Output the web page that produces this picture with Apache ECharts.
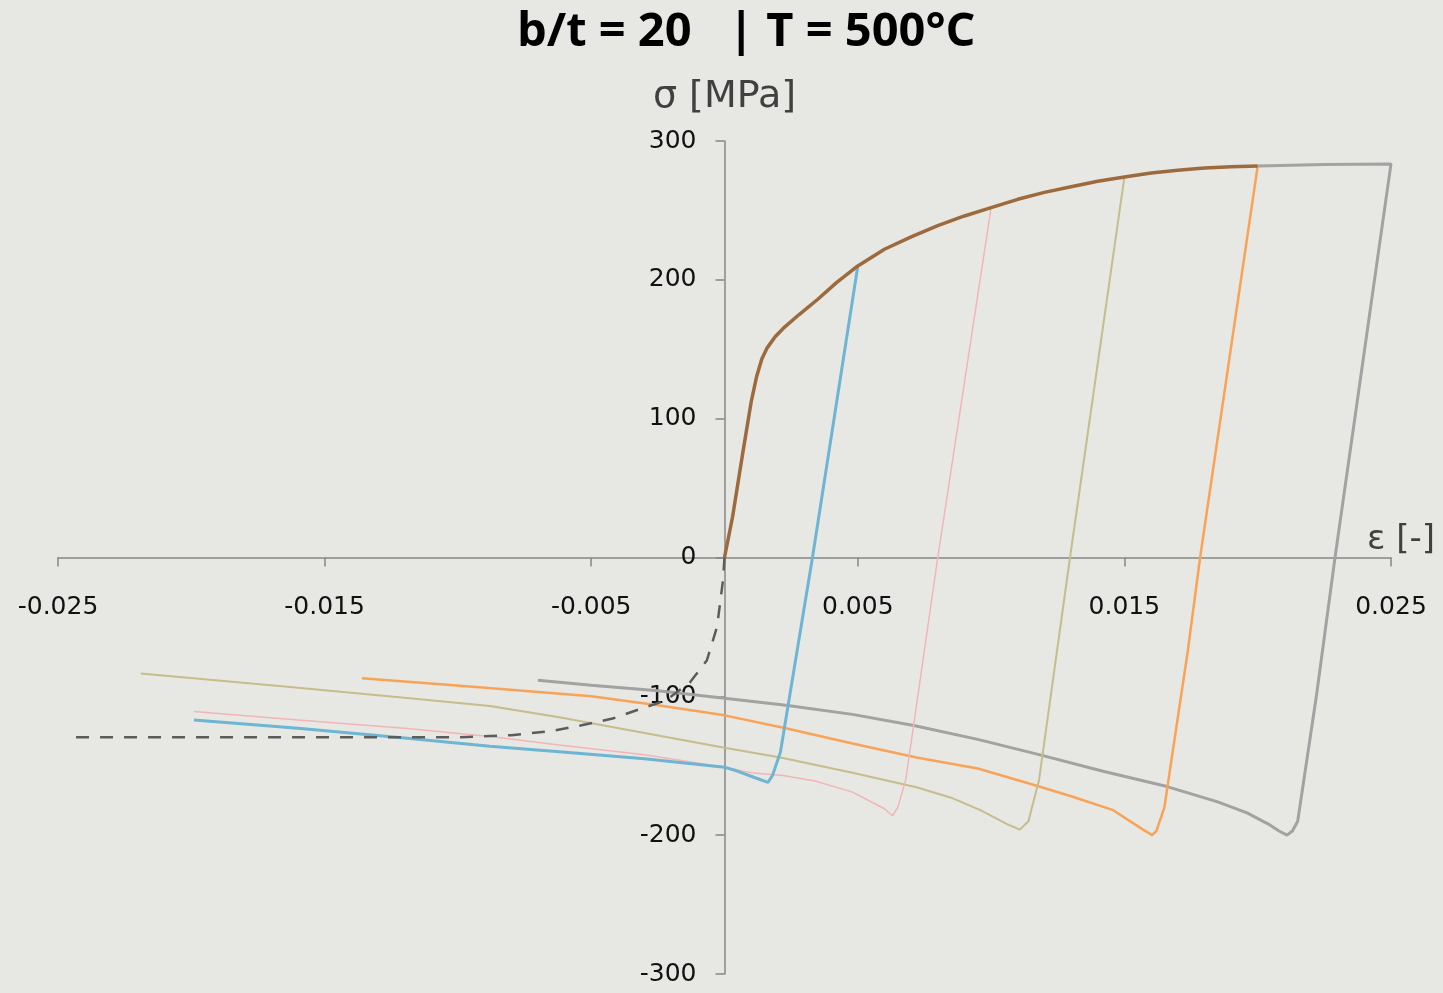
<!DOCTYPE html>
<html>
<head>
<meta charset="utf-8">
<script src="https://cdn.jsdelivr.net/npm/echarts@6/dist/echarts.min.js"></script>
<style>
  html, body { margin: 0; padding: 0; background: #e7e7e4; }
  #main { width: 1443px; height: 993px; }
</style>
</head>
<body>
<div id="main"></div>
<script>
// strain [-], stress [MPa]
const envelopeTension = [
  [0, 0], [0.0003, 29], [0.0007, 77], [0.001, 112], [0.0012, 130], [0.0014, 143],
  [0.0016, 151], [0.0019, 159], [0.0022, 165], [0.0028, 175], [0.0035, 186], [0.0042, 198],
  [0.005, 210], [0.006, 222], [0.007, 231], [0.008, 239], [0.009, 246], [0.01, 252],
  [0.011, 258], [0.012, 263], [0.013, 267], [0.014, 271], [0.015, 274], [0.016, 277],
  [0.017, 279], [0.018, 280.5], [0.019, 281.5], [0.02, 282]
]
const envelopeCompression = [
  [0, 0], [-0.00006, -17], [-0.00028, -50], [-0.00066, -74], [-0.0013, -90],
  [-0.0022, -103], [-0.0033, -110], [-0.0042, -116], [-0.0054, -121], [-0.0065, -125],
  [-0.008, -128], [-0.01, -129.5], [-0.0246, -129.5]
]
// unloading from 0.005
const cycleBlue = [
  [0.005, 210], [0.0033, 0], [0.0021, -140], [0.0018, -157], [0.00163, -162],
  [0.0012, -159], [0.0005, -154], [0, -151], [-0.003, -145], [-0.0062, -140],
  [-0.0088, -136], [-0.012, -130], [-0.016, -123], [-0.0199, -117]
]
// unloading from 0.010
const cyclePink = [
  [0.01, 252], [0.008, 0], [0.0068, -160], [0.0065, -180], [0.0063, -186],
  [0.006, -181], [0.0048, -169], [0.0034, -161], [0.0022, -157], [0.001, -155],
  [0, -151], [-0.003, -142], [-0.0062, -135], [-0.0088, -129], [-0.012, -123],
  [-0.016, -117], [-0.0199, -111]
]
// unloading from 0.015
const cycleOlive = [
  [0.015, 274], [0.01296, 0], [0.0118, -160], [0.0114, -190], [0.01108, -196],
  [0.0106, -192], [0.0096, -182], [0.0085, -173], [0.0072, -165.5], [0.0048, -155],
  [0.0021, -144], [0, -137], [-0.0031, -126], [-0.0062, -115], [-0.0088, -107],
  [-0.012, -101], [-0.0165, -93], [-0.0219, -83.5]
]
// unloading from 0.020
const cycleOrange = [
  [0.02, 282], [0.01784, 0], [0.01738, -67], [0.0165, -180], [0.0162, -197],
  [0.01604, -200], [0.0157, -196], [0.01458, -182], [0.013, -172], [0.01165, -164],
  [0.0095, -152], [0.0072, -144], [0.0048, -134], [0.0023, -123], [0, -113.7],
  [-0.0025, -106.5], [-0.005, -100], [-0.0092, -93.5], [-0.0136, -87]
]
// loading to 0.025 and unloading
const cycleGray = [
  [0.02, 282], [0.0225, 283], [0.025, 283.5], [0.0229, 0], [0.0222, -100],
  [0.0215, -190], [0.0213, -197], [0.0211, -200], [0.0208, -197], [0.0204, -192],
  [0.0196, -184], [0.0185, -176], [0.0166, -165], [0.0142, -154], [0.0118, -142],
  [0.0095, -131], [0.0071, -121], [0.0048, -113], [0.0023, -106.5], [0, -101.4],
  [-0.0025, -96], [-0.005, -92], [-0.007, -88.5]
]

const xTicks = { min: -0.025, max: 0.025, step: 0.01 }
const yTicks = { min: -300, max: 300, step: 100 }

const axisColor = '#878787'
const labelFont = 'DejaVu Sans'

// grid box, axes cross at (0, 0) in the middle of it
const gridLeft = 58, gridRight = 52, gridTop = 141, gridBottom = 19
const gridW = 1443 - gridLeft - gridRight
const gridH = 993 - gridTop - gridBottom

let myChart = echarts.init(document.getElementById('main'))

function lineSeries(data, color, width, extra) {
  return Object.assign({
    type: 'line',
    data: data,
    symbol: 'none',
    smooth: false,
    lineStyle: { color: color, width: width }
  }, extra || {})
}

let option = {
  backgroundColor: '#e7e7e4',
  animation: false,
  title: {
    text: 'b/t = 20   | T = 500°C',
    left: 512,
    top: 4,
    textStyle: {
      fontFamily: 'Open Sans',
      fontWeight: 'bold',
      fontSize: 47,
      color: '#000'
    }
  },
  grid: {
    left: gridLeft,
    right: gridRight,
    top: gridTop,
    bottom: gridBottom,
    containLabel: false,
    outerBoundsMode: 'none'
  },
  xAxis: {
    type: 'value',
    min: xTicks.min,
    max: xTicks.max,
    interval: xTicks.step,
    position: 'bottom',
    offset: -gridH / 2,
    name: 'ε [-]',
    nameLocation: 'end',
    nameGap: -24,
    nameTextStyle: {
      fontFamily: labelFont,
      fontSize: 34,
      color: '#404040',
      align: 'left',
      verticalAlign: 'bottom',
      padding: [0, 0, 0, 0]
    },
    axisLine: { onZero: false, lineStyle: { color: axisColor, width: 1.5 } },
    axisTick: { show: true, inside: false, length: 9, lineStyle: { color: axisColor, width: 1.5 } },
    axisLabel: {
      margin: 37,
      fontFamily: labelFont,
      fontSize: 25,
      color: '#111',
      formatter: function (v) { return v.toFixed(3) }
    },
    splitLine: { show: false }
  },
  yAxis: {
    type: 'value',
    min: yTicks.min,
    max: yTicks.max,
    interval: yTicks.step,
    position: 'left',
    offset: -gridW / 2,
    name: 'σ [MPa]',
    nameLocation: 'end',
    nameGap: 25,
    nameTextStyle: {
      fontFamily: labelFont,
      fontSize: 38,
      color: '#404040'
    },
    axisLine: { onZero: false, lineStyle: { color: axisColor, width: 1.5 } },
    axisTick: { show: true, inside: false, length: 9, lineStyle: { color: axisColor, width: 1.5 } },
    axisLabel: {
      margin: 28,
      fontFamily: labelFont,
      fontSize: 25,
      color: '#111'
    },
    splitLine: { show: false }
  },
  series: [
    lineSeries(cycleGray, '#a2a2a2', 3),
    lineSeries(cycleOrange, '#f9a357', 2.5),
    lineSeries(cycleOlive, '#c5bd8c', 2),
    lineSeries(cyclePink, '#f4b4b6', 1.5),
    lineSeries(cycleBlue, '#6db5d3', 3),
    lineSeries(envelopeTension, '#9c6a3d', 3.5),
    lineSeries(envelopeCompression, '#5c5c5c', 2.5, { lineStyle: { color: '#5c5c5c', width: 2.5, type: [13, 11] } })
  ]
}

myChart.setOption(option)
</script>
</body>
</html>
